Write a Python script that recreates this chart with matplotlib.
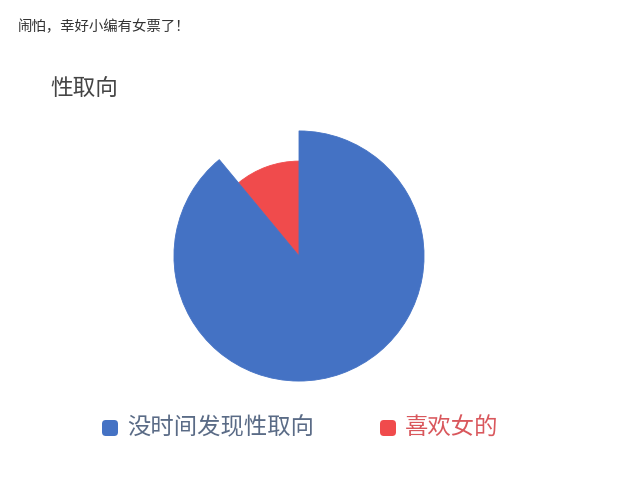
import matplotlib
matplotlib.use("Agg")
import matplotlib.pyplot as plt
from matplotlib.patches import FancyBboxPatch

plt.rcParams['font.family'] = ['Noto Sans CJK SC', 'DejaVu Sans']

labels = ['喜欢女的', '没时间发现性取向']
values = [11, 89]
colors = ['#F04B4C', '#4472C4']
text_colors = ['#D9575C', '#5A6B86']
radii = [0.73, 0.962]
legend_order = [1, 0]
caption = '闹怕，幸好小编有女票了！'
title = '性取向'

W, H = 640, 482
fig = plt.figure(figsize=(W / 100, H / 100), dpi=100)
fig.patch.set_facecolor('white')

cx, cy, half = 299, 256, 130
ax = fig.add_axes([(cx - half) / W, (H - cy - half) / H, 2 * half / W, 2 * half / H])
wedges, _ = ax.pie(values, colors=colors, startangle=90, counterclock=True,
                   wedgeprops=dict(linewidth=0))
for w, r in zip(wedges, radii):
    w.set_radius(r)
    w.set_edgecolor(w.get_facecolor())
    w.set_linewidth(0.6)
ax.set_xlim(-1, 1)
ax.set_ylim(-1, 1)
ax.set_aspect('equal')
ax.axis('off')

fig.text(18 / W, 1 - 27 / H, caption, fontsize=10.4, color='#333333', va='center', ha='left')
fig.text(50 / W, 1 - 89 / H, title, fontsize=16.3, color='#444444', va='center', ha='left')

# legend
marker_x = [102, 380]
ly = 428
for idx, mx in zip(legend_order, marker_x):
    sq = FancyBboxPatch(((mx) / W, 1 - (ly + 8) / H), 16 / W, 16 / H,
                        boxstyle='round,pad=0,rounding_size=0.006',
                        transform=fig.transFigure, facecolor=colors[idx],
                        edgecolor='none', mutation_aspect=W / H)
    fig.patches.append(sq)
    fig.text((mx + 25) / W, 1 - ly / H, labels[idx], fontsize=16.8,
             color=text_colors[idx], va='center', ha='left')

fig.savefig('out.png', dpi=100, facecolor='white')
